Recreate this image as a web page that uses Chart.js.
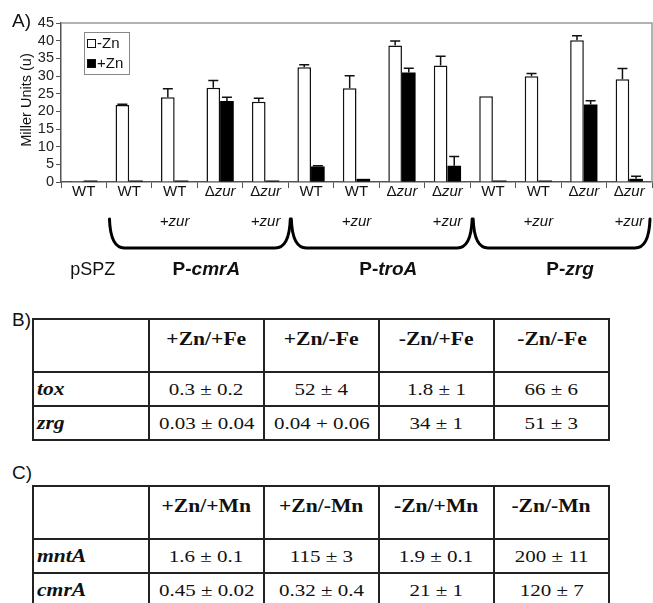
<!DOCTYPE html>
<html>
<head>
<meta charset="utf-8">
<script src="https://cdn.jsdelivr.net/npm/chart.js@4.4.1/dist/chart.umd.min.js"></script>
<style>
  html, body { margin: 0; padding: 0; background: #fff; width: 653px; height: 603px; overflow: hidden; }
  #grafico { position: absolute; left: 0; top: 0; }
  .painel { position: absolute; left: 12px; font: 19px/19px "Liberation Sans", Arial, sans-serif; color: #111; }
  table { position: absolute; left: 32px; width: 576px; border-collapse: collapse; table-layout: fixed;
          font-family: "Liberation Serif", "Times New Roman", serif; color: #111; }
  th, td { border: 2px solid #222; padding: 0; text-align: center; }
  tr.cab { height: 53px; }
  tr.lin { height: 34px; }
  th { vertical-align: top; padding-top: 9px; font-size: 18px; font-weight: bold; }
  td { font-size: 17.5px; }
  td.gene { text-align: left; padding-left: 3px; font-weight: bold; font-style: italic; font-size: 18px; }
  .esticado { display: inline-block; transform: scaleX(1.2); }
  td.gene .esticado { transform-origin: left center; }
</style>
</head>
<body>
<canvas id="grafico" width="653" height="300"></canvas>
<div class="painel" style="top:310px">B)</div>
<table id="tabB" style="top:318px"></table>
<div class="painel" style="top:463px">C)</div>
<table id="tabC" style="top:485px"></table>

<script>
/* Painel A: atividade (Miller Units) com e sem zinco */
const CATEGORIAS = ['WT', 'WT', 'WT', 'Δzur', 'Δzur', 'WT', 'WT', 'Δzur', 'Δzur', 'WT', 'WT', 'Δzur', 'Δzur'];
const COM_ZUR = [false, false, true, false, true, false, true, false, true, false, true, false, true];
const MENOS_ZN = [0.1, 21.8, 24.0, 26.7, 22.7, 32.5, 26.5, 38.6, 33.0, 24.3, 29.9, 40.1, 29.1];
const ERRO_MENOS_ZN = [0, 0.2, 2.4, 2.0, 1.0, 0.7, 3.6, 1.3, 2.6, 0, 0.8, 1.3, 3.0];
const MAIS_ZN = [0.1, 0.2, 0.1, 22.9, 0.1, 4.4, 0.9, 31.0, 4.6, 0.3, 0.3, 21.9, 0.9];
const ERRO_MAIS_ZN = [0, 0, 0, 1.1, 0, 0.2, 0, 1.2, 2.6, 0, 0, 1.1, 0.7];
const Y_TICKS = [0, 5, 10, 15, 20, 25, 30, 35, 40, 45];

/* Grupos de promotores sob o eixo */
const GRUPO_NOMES = ['pSPZ', 'P-cmrA', 'P-troA', 'P-zrg'];
const GRUPO_INICIO = [0, 1, 5, 9];
const GRUPO_FIM = [0, 4, 8, 12];

/* Tabelas B e C */
const COLUNAS_B = ['+Zn/+Fe', '+Zn/-Fe', '-Zn/+Fe', '-Zn/-Fe'];
const GENES_B = ['tox', 'zrg'];
const VALORES_B = [
  ['0.3 ± 0.2', '52 ± 4', '1.8 ± 1', '66 ± 6'],
  ['0.03 ± 0.04', '0.04 + 0.06', '34 ± 1', '51 ± 3']
];
const COLUNAS_C = ['+Zn/+Mn', '+Zn/-Mn', '-Zn/+Mn', '-Zn/-Mn'];
const GENES_C = ['mntA', 'cmrA'];
const VALORES_C = [
  ['1.6 ± 0.1', '115 ± 3', '1.9 ± 0.1', '200 ± 11'],
  ['0.45 ± 0.02', '0.32 ± 0.4', '21 ± 1', '120 ± 7']
];

const FONTE = '"Liberation Sans", Arial, sans-serif';

function montarTabela(id, colunas, genes, valores) {
  let html = '<colgroup><col style="width:116px">' + colunas.map(() => '<col style="width:115px">').join('') + '</colgroup>';
  html += '<tr class="cab"><th></th>' + colunas.map(c => `<th><span class="esticado">${c}</span></th>`).join('') + '</tr>';
  genes.forEach((g, i) => {
    html += `<tr class="lin"><td class="gene"><span class="esticado">${g}</span></td>` +
      valores[i].map(v => `<td><span class="esticado">${v}</span></td>`).join('') + '</tr>';
  });
  document.getElementById(id).innerHTML = html;
}
montarTabela('tabB', COLUNAS_B, GENES_B, VALORES_B);
montarTabela('tabC', COLUNAS_C, GENES_C, VALORES_C);

/* Escreve texto com partes em estilos diferentes, centrado em cx */
function textoMisto(ctx, partes, cx, cy) {
  let total = 0;
  partes.forEach(p => { ctx.font = p.f; p.w = ctx.measureText(p.t).width; total += p.w; });
  let x = cx - total / 2;
  ctx.textAlign = 'left';
  ctx.textBaseline = 'middle';
  partes.forEach(p => { ctx.font = p.f; ctx.fillText(p.t, x, cy); x += p.w; });
}

function partesRotulo(r, tam) {
  if (r.startsWith('Δ')) return [{ t: 'Δ', f: `${tam}px ${FONTE}` }, { t: r.slice(1), f: `italic ${tam}px ${FONTE}` }];
  return [{ t: r, f: `${tam}px ${FONTE}` }];
}

const decoracao = {
  id: 'decoracao',
  afterDatasetsDraw(chart) {
    const ctx = chart.ctx, y = chart.scales.y;
    ctx.save();
    chart.data.datasets.forEach((ds, i) => {
      const meta = chart.getDatasetMeta(i);
      meta.data.forEach((barra, j) => {
        const e = ds.erros[j];
        if (!e) return;
        const y0 = y.getPixelForValue(ds.data[j]);
        const y1 = y.getPixelForValue(ds.data[j] + e);
        ctx.strokeStyle = '#111';
        ctx.lineWidth = 1.5;
        ctx.beginPath();
        ctx.moveTo(barra.x, y0); ctx.lineTo(barra.x, y1);
        ctx.moveTo(barra.x - 5, y1); ctx.lineTo(barra.x + 5, y1);
        ctx.stroke();
      });
    });
    ctx.restore();
  },
  afterDraw(chart) {
    const ctx = chart.ctx, a = chart.chartArea, x = chart.scales.x;
    const meia = (x.getPixelForValue(1) - x.getPixelForValue(0)) / 2;
    ctx.save();

    // moldura superior e direita da área do gráfico
    ctx.strokeStyle = '#999';
    ctx.lineWidth = 1.5;
    ctx.beginPath();
    ctx.moveTo(a.left, a.top); ctx.lineTo(a.right, a.top); ctx.lineTo(a.right, a.bottom);
    ctx.stroke();

    ctx.fillStyle = '#111';
    // rótulos das categorias e linha "+zur"
    CATEGORIAS.forEach((r, i) => {
      const cx = x.getPixelForValue(i);
      textoMisto(ctx, partesRotulo(r, 15), cx, 192);
      if (COM_ZUR[i]) textoMisto(ctx, [{ t: '+zur', f: `italic 15px ${FONTE}` }], cx, 222);
    });

    // chaves e nomes dos grupos
    GRUPO_NOMES.forEach((nome, g) => {
      const esq = x.getPixelForValue(GRUPO_INICIO[g]) - meia;
      const dir = x.getPixelForValue(GRUPO_FIM[g]) + meia;
      const cx = (esq + dir) / 2 + 9;
      if (g === 0) {
        textoMisto(ctx, [{ t: nome, f: `18px ${FONTE}` }], cx, 270);
        return;
      }
      const l = esq + 3, rr = Math.min(dir + 2, a.right - 2), topo = 219, base = 248, raio = 15;
      ctx.strokeStyle = '#000';
      ctx.lineWidth = 3;
      ctx.lineCap = 'round';
      ctx.beginPath();
      ctx.moveTo(l, topo);
      ctx.quadraticCurveTo(l + 1, base, l + raio, base);
      ctx.lineTo(rr - raio, base);
      ctx.quadraticCurveTo(rr - 1, base, rr, topo);
      ctx.stroke();
      textoMisto(ctx, [
        { t: 'P-', f: `bold 19px ${FONTE}` },
        { t: nome.slice(2), f: `italic bold 19px ${FONTE}` }
      ], cx, 270);
    });

    // letra do painel e título do eixo y
    ctx.font = `19px ${FONTE}`;
    ctx.textAlign = 'left';
    ctx.textBaseline = 'alphabetic';
    ctx.fillText('A)', 12, 27);
    ctx.save();
    ctx.translate(27, 100);
    ctx.rotate(-Math.PI / 2);
    ctx.textAlign = 'center';
    ctx.textBaseline = 'middle';
    ctx.font = `14.5px ${FONTE}`;
    ctx.fillText('Miller Units (u)', 0, 0);
    ctx.restore();

    // legenda com moldura
    ctx.strokeStyle = '#888';
    ctx.lineWidth = 1;
    ctx.strokeRect(84.5, 32.5, 45, 42);
    chart.data.datasets.forEach((ds, i) => {
      const yy = 44 + i * 20;
      ctx.fillStyle = ds.backgroundColor;
      ctx.fillRect(87, yy - 5, 9, 9);
      ctx.strokeStyle = '#111';
      ctx.strokeRect(87.5, yy - 4.5, 8, 8);
      ctx.fillStyle = '#111';
      ctx.font = `15px ${FONTE}`;
      ctx.textBaseline = 'middle';
      ctx.fillText(ds.label, 97, yy);
    });
    ctx.restore();
  }
};

new Chart(document.getElementById('grafico'), {
  type: 'bar',
  data: {
    labels: CATEGORIAS,
    datasets: [
      { label: '-Zn', data: MENOS_ZN, erros: ERRO_MENOS_ZN, backgroundColor: '#fff', borderColor: '#111',
        borderWidth: 1.5, categoryPercentage: 0.6, barPercentage: 1, minBarLength: 1 },
      { label: '+Zn', data: MAIS_ZN, erros: ERRO_MAIS_ZN, backgroundColor: '#000', borderColor: '#000',
        borderWidth: 0, categoryPercentage: 0.6, barPercentage: 1, minBarLength: 1.5 }
    ]
  },
  options: {
    responsive: false,
    animation: false,
    layout: { padding: { top: 23, right: 1, left: 0, bottom: 0 } },
    plugins: { legend: { display: false }, tooltip: { enabled: false } },
    scales: {
      x: {
        grid: { drawOnChartArea: false, tickLength: 6, color: '#555' },
        border: { color: '#555', width: 1.5 },
        ticks: { display: false },
        afterFit(s) { s.height = 118; }
      },
      y: {
        min: 0, max: 45,
        afterBuildTicks(s) { s.ticks = Y_TICKS.map(v => ({ value: v })); },
        ticks: { autoSkip: false, font: { size: 14.5, family: FONTE }, color: '#222', padding: 2 },
        grid: { drawOnChartArea: false, tickLength: 5, color: '#555' },
        border: { color: '#555', width: 1.5 },
        afterFit(s) { s.width = 61; }
      }
    }
  },
  plugins: [decoracao]
});
</script>
</body>
</html>
